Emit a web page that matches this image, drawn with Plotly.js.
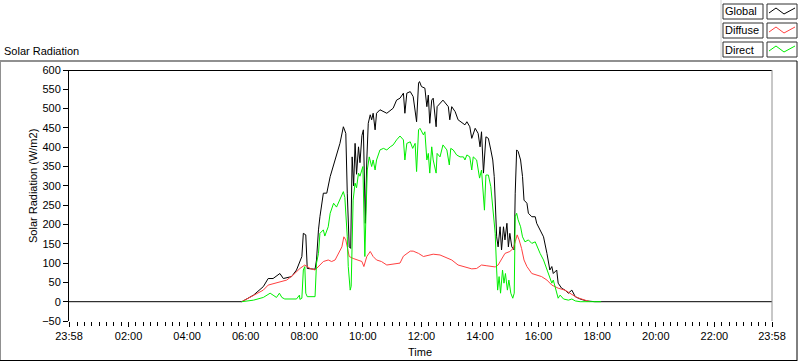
<!DOCTYPE html>
<html>
<head>
<meta charset="utf-8">
<script src="https://cdn.plot.ly/plotly-3.0.1.min.js"></script>
<style>
html,body{margin:0;padding:0;background:#fff;}
#chart{width:800px;height:361px;}
</style>
</head>
<body>
<div id="chart"></div>
<script>
// Time in minutes since midnight; values in W/m2
const globalTime = [-2,352,376,396,406,416,430,437,454,464,475,478,483,486,502,505,509,512,519,526,533,543,553,560,565,568,572,575,578,581,584,587,591,594,598,601,602,605,608,611,615,618,621,625,628,635,649,662,669,676,683,686,690,697,703,710,714,716,720,727,731,734,737,741,744,750,752,764,775,778,782,789,795,809,813,819,823,830,836,840,843,847,852,857,862,866,869,871,874,877,881,884,888,891,895,898,901,905,910,912,915,918,923,927,930,936,939,946,953,956,963,970,977,983,987,990,997,1000,1007,1014,1021,1028,1035,1045,1058,1075,1438];
const globalVal  = [0,0,17,39,60,60,73,60,65,82,117,177,173,86,84,108,186,220,281,281,324,367,410,453,436,281,142,138,375,300,410,330,401,360,430,445,367,203,367,462,484,471,488,445,488,497,488,501,522,527,540,488,540,544,531,466,566,570,557,553,505,535,462,522,527,453,505,522,505,471,505,492,471,458,466,453,423,449,436,401,440,333,427,423,393,367,324,263,168,142,194,134,194,160,203,142,177,142,134,281,393,389,367,324,263,255,229,220,220,203,186,168,125,82,91,73,82,48,35,30,22,30,13,7,2,0,0];

const diffuseTime = [352,376,382,396,406,423,444,457,471,481,492,502,509,519,529,536,543,550,557,561,565,568,572,580,591,598,602,608,615,621,628,638,649,662,676,683,690,697,703,710,714,724,734,744,758,772,782,795,809,823,833,843,854,871,877,884,891,901,908,912,916,920,925,930,936,946,956,966,977,987,1000,1014,1024,1038,1055,1065];
const diffuseVal  = [0,17,20,30,43,48,56,69,86,95,86,82,91,104,108,104,108,125,142,168,160,142,117,112,108,104,91,117,130,117,108,104,95,97,100,118,125,131,131,127,125,117,121,123,121,114,108,95,90,85,86,95,93,90,95,112,125,130,138,155,173,160,138,108,91,73,69,65,56,43,35,30,22,11,4,0];

const directTime = [352,376,396,410,416,423,429,434,440,454,464,470,471,475,478,481,483,486,502,505,509,512,519,522,529,533,540,546,553,560,563,565,568,570,574,576,578,580,584,587,591,594,600,602,604,606,609,613,618,621,625,628,635,642,649,656,662,669,676,683,686,690,697,702,707,710,714,717,724,727,731,734,737,741,744,750,752,758,764,772,777,780,785,792,799,806,809,813,819,823,826,833,839,843,847,849,852,857,862,867,871,874,876,879,882,886,889,892,896,899,903,907,910,912,915,918,923,927,932,939,946,953,957,963,970,977,982,987,990,997,1000,1004,1011,1021,1028,1035,1045,1088];
const directVal  = [0,4,11,22,17,11,22,11,7,7,7,17,6,9,82,91,22,13,13,100,125,177,186,170,194,229,255,245,263,285,270,237,168,91,30,40,212,263,307,295,333,325,350,263,117,212,341,375,350,367,341,367,393,397,393,401,406,419,429,419,367,410,414,397,410,337,445,449,432,440,367,384,333,401,367,333,384,375,406,393,354,397,393,380,375,375,367,380,375,341,375,367,320,341,281,237,328,328,298,229,177,82,30,65,22,82,48,73,30,56,22,9,22,220,229,212,194,168,155,160,151,155,142,125,108,82,65,48,56,22,9,17,7,4,7,2,0,0];

const tickVals = [-2,120,240,360,480,600,720,840,960,1080,1200,1320,1438];
const tickText = ['23:58','02:00','04:00','06:00','08:00','10:00','12:00','14:00','16:00','18:00','20:00','22:00','23:58'];
const seriesNames = ['Global','Diffuse','Direct'];
const seriesColors = ['#000000','#ff4040','#00ee00'];

const FONT = 'Liberation Sans, Arial, sans-serif';
const L=69, R=772, T=70, B=321;
const pxX = x => (x-L)/(R-L);
const pxY = y => (B-y)/(B-T);

const traces = [
  {x: globalTime, y: globalVal, name: seriesNames[0]},
  {x: diffuseTime, y: diffuseVal, name: seriesNames[1]},
  {x: directTime, y: directVal, name: seriesNames[2]}
].map((t,i)=>Object.assign(t,{type:'scatter',mode:'lines',line:{color:seriesColors[i],width:1},hoverinfo:'skip'}));

const shapes = [];
const annotations = [];
function line(x0,y0,x1,y1,color,width){
  shapes.push({type:'line',xref:'paper',yref:'paper',x0:pxX(x0),y0:pxY(y0),x1:pxX(x1),y1:pxY(y1),line:{color:color,width:width||1}});
}
function rect(x0,y0,x1,y1,color){
  shapes.push({type:'rect',xref:'paper',yref:'paper',x0:pxX(x0),y0:pxY(y0),x1:pxX(x1),y1:pxY(y1),line:{color:color,width:1},fillcolor:'#ffffff'});
}
// outer frame
line(0,61,797,61,'#909090',2);
line(0.5,61,0.5,361,'#909090',1);
line(0,360.5,797,360.5,'#000000',1);
line(797,61,797,361,'#000000',1);
// legend area
line(721,0,721,60,'#d4d4d4',1);
// plot area border
line(69,70.5,772,70.5,'#000000',1);
line(772,70,772,321,'#909090',1);

// legend boxes
seriesNames.forEach((n,i)=>{
  const y0 = 4 + i*19, y1 = y0+15;
  rect(723,y0,763,y1,'#303030');
  rect(767,y0,797,y1,'#303030');
  annotations.push({xref:'paper',yref:'paper',x:pxX(723),y:pxY(y0+7.5),xanchor:'left',yanchor:'middle',text:n,showarrow:false,font:{family:FONT,size:11,color:'#000'}});
  shapes.push({type:'path',xref:'paper',yref:'paper',
    path:'M '+pxX(769)+' '+pxY(y0+9)+' L '+pxX(776)+' '+pxY(y0+4)+' L '+pxX(784)+' '+pxY(y0+10)+' L '+pxX(795)+' '+pxY(y0+4),
    line:{color:seriesColors[i],width:1}});
});

annotations.push({xref:'paper',yref:'paper',x:pxX(2),y:pxY(51),xanchor:'left',yanchor:'middle',text:'Solar Radiation',showarrow:false,font:{family:FONT,size:11,color:'#000'}});
annotations.push({xref:'paper',yref:'paper',x:pxX(33),y:pxY(186),xanchor:'center',yanchor:'middle',textangle:-90,text:'Solar Radiation (W/m2)',showarrow:false,font:{family:FONT,size:11,color:'#000'}});
annotations.push({xref:'paper',yref:'paper',x:pxX(420),y:pxY(352),xanchor:'center',yanchor:'middle',text:'Time',showarrow:false,font:{family:FONT,size:11,color:'#000'}});

const layout = {
  width:800,height:361,
  margin:{l:L,r:800-R,t:T,b:361-B,pad:0},
  paper_bgcolor:'#ffffff',plot_bgcolor:'#ffffff',
  showlegend:false,
  font:{family:FONT,size:11,color:'#000'},
  xaxis:{range:[-2,1438],tickmode:'array',tickvals:tickVals,ticktext:tickText,ticks:'outside',ticklen:5,tickcolor:'#000',tickwidth:1,
    minor:{tick0:0,dtick:15,ticks:'outside',ticklen:4,tickcolor:'#000',tickwidth:1,showgrid:false},
    showline:false,showgrid:false,zeroline:false,tickfont:{family:FONT,size:11,color:'#000'},fixedrange:true},
  yaxis:{range:[-50,600],dtick:50,tick0:0,ticks:'outside',ticklen:5,tickcolor:'#000',tickwidth:1,showline:true,linecolor:'#000',linewidth:1,
    showgrid:false,zeroline:false,tickfont:{family:FONT,size:11,color:'#000'},fixedrange:true},
  shapes:shapes,annotations:annotations
};
Plotly.newPlot('chart',traces,layout,{staticPlot:true,displayModeBar:false});
</script>
</body>
</html>
